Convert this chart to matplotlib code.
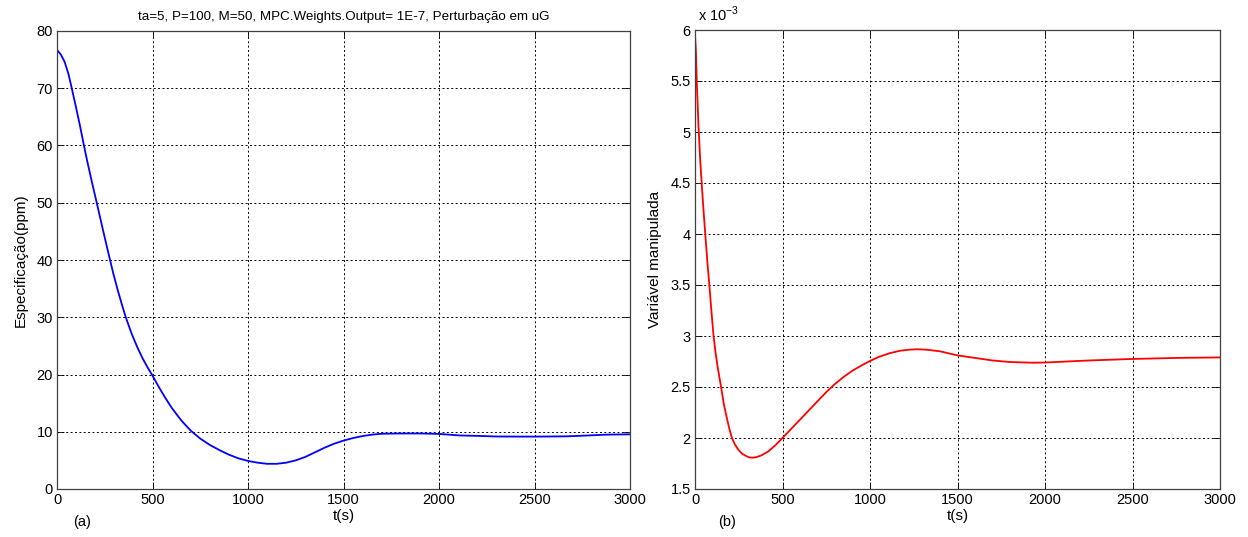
import matplotlib
matplotlib.use("Agg")
import matplotlib.pyplot as plt
from matplotlib.ticker import FuncFormatter, MultipleLocator

plt.rcParams['font.family'] = ['Liberation Sans', 'DejaVu Sans']

# Panel (a): Especificação (ppm)
t_a = [0, 20, 40, 60, 80, 100, 120, 141, 160, 185, 208, 230, 250, 272, 295, 320, 340, 360,
       390, 420, 450, 475, 500, 530, 560, 600, 650, 700, 750, 800, 850, 900, 950, 1000,
       1050, 1100, 1150, 1200, 1250, 1300, 1350, 1400, 1450, 1500, 1550, 1600, 1650, 1700,
       1800, 1900, 2000, 2050, 2110, 2200, 2300, 2500, 2670, 2780, 2880, 3000]
y_a = [76.7, 75.9, 74.6, 72.5, 69.6, 66.6, 63.5, 60.0, 57.0, 53.3, 50.0, 46.8, 43.9, 40.8,
       37.6, 34.5, 32.2, 30.0, 27.2, 24.8, 22.7, 21.2, 19.8, 18.0, 16.3, 14.2, 12.0, 10.2,
       8.8, 7.7, 6.8, 6.0, 5.35, 4.9, 4.6, 4.4, 4.4, 4.6, 5.0, 5.6, 6.4, 7.2, 7.9, 8.45, 8.9,
       9.25, 9.5, 9.65, 9.7, 9.7, 9.62, 9.5, 9.35, 9.28, 9.17, 9.15, 9.2, 9.35, 9.5, 9.55]

# Panel (b): Variável manipulada (x 1e-3)
t_b = [0, 5, 10, 20, 30, 40, 50, 60, 70, 82, 94, 106, 118, 130, 149, 165, 180, 195, 211, 230,
       250, 270, 290, 310, 330, 350, 380, 420, 460, 500, 550, 600, 650, 700, 750, 800, 850,
       900, 950, 1000, 1050, 1110, 1170, 1230, 1272, 1320, 1400, 1500, 1600, 1700, 1800,
       1930, 2000, 2250, 2500, 2750, 3000]
y_b = [5.95, 5.8, 5.5, 5.05, 4.72, 4.45, 4.2, 3.97, 3.74, 3.5, 3.24, 3.0, 2.83, 2.69, 2.5,
       2.33, 2.21, 2.1, 2.0, 1.93, 1.88, 1.845, 1.825, 1.81, 1.807, 1.812, 1.83, 1.87, 1.93,
       2.0, 2.09, 2.18, 2.27, 2.36, 2.45, 2.53, 2.6, 2.66, 2.71, 2.755, 2.795, 2.83, 2.855,
       2.867, 2.87, 2.866, 2.85, 2.81, 2.785, 2.76, 2.745, 2.738, 2.74, 2.76, 2.775, 2.785,
       2.79]

title_a = "ta=5, P=100, M=50, MPC.Weights.Output= 1E-7, Perturbação em uG"
xlabel = "t(s)"
ylabel_a = "Especificação(ppm)"
ylabel_b = "Variável manipulada"

fig = plt.figure(figsize=(12.48, 5.37), dpi=100)
ax1 = fig.add_axes([57/1248, 48/537, 573/1248, 458/537])
ax2 = fig.add_axes([695/1248, 48/537, 525/1248, 459/537])

fmt = FuncFormatter(lambda v, p: ('%g' % v))

def style(ax):
    ax.grid(True, color='black', linestyle=(0, (2, 2.5)), linewidth=0.7)
    ax.set_axisbelow(True)
    ax.tick_params(direction='in', top=True, right=True, length=5, width=0.6,
                   labelsize=10.5, pad=3)
    for s in ax.spines.values():
        s.set_linewidth(0.9)
        s.set_color('#404040')
    ax.xaxis.set_major_locator(MultipleLocator(500))
    ax.set_xlim(0, 3000)

ax1.plot(t_a, y_a, color='#0000ff', linewidth=1.3)
style(ax1)
ax1.set_ylim(0, 80)
ax1.yaxis.set_major_locator(MultipleLocator(10))
ax1.set_title(title_a, fontsize=9.6, pad=8)
ax1.set_xlabel(xlabel, fontsize=11, labelpad=1)
ax1.set_ylabel(ylabel_a, fontsize=11, labelpad=6)

ax2.plot(t_b, y_b, color='#ff0000', linewidth=1.3)
style(ax2)
ax2.set_ylim(1.5, 6)
ax2.yaxis.set_major_locator(MultipleLocator(0.5))
ax2.yaxis.set_major_formatter(fmt)
ax2.set_xlabel(xlabel, fontsize=11, labelpad=1)
ax2.set_ylabel(ylabel_b, fontsize=11, labelpad=6)
ax2.text(0.005, 1.012, r'x 10$^{\mathregular{-3}}$', transform=ax2.transAxes,
         fontsize=10.5, ha='left', va='bottom')

fig.text(82/1248, 1 - 522/537, '(a)', fontsize=10.5, ha='center', va='center')
fig.text(727/1248, 1 - 522/537, '(b)', fontsize=10.5, ha='center', va='center')

fig.savefig('out.png', dpi=100, facecolor='white')
